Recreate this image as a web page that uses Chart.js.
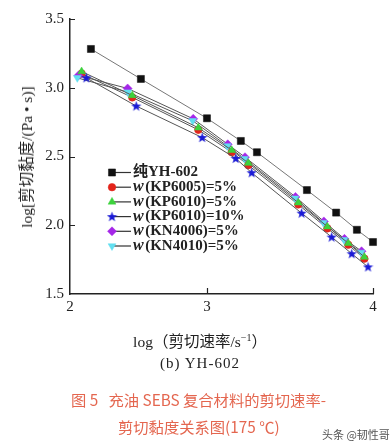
<!DOCTYPE html>
<html>
<head>
<meta charset="utf-8">
<script src="https://cdn.jsdelivr.net/npm/chart.js@4.4.0/dist/chart.umd.min.js"></script>
<style>
  body { margin: 0; background: #fff; }
  #wrap { position: relative; width: 392px; height: 447px; overflow: hidden; }
  .t { position: absolute; white-space: nowrap; font-family: 'Liberation Serif', 'Noto Sans CJK SC', serif; color: #222; }
  .cap { font-family: 'Noto Sans CJK SC', sans-serif; color: #e4664f; font-size: 15.3px; }
  sup { font-size: 10px; }
</style>
</head>
<body>
<div id="wrap">
  <canvas id="chart" width="392" height="447"></canvas>
  <div class="t" style="left:25px;top:157px;font-size:15.5px;transform:translate(-50%,-50%) rotate(-90deg);">log[剪切黏度/(Pa • s)]</div>
  <div class="t" style="left:0;width:400px;top:329px;text-align:center;font-size:15.5px;">log（剪切速率/s<sup>−1</sup>）</div>
  <div class="t" style="left:0;width:400px;top:355px;text-align:center;font-size:15px;letter-spacing:1px;">(b) YH-602</div>
  <div class="t cap" style="left:71px;top:388px;">图 5&nbsp;&nbsp;&nbsp;充油 SEBS 复合材料的剪切速率-</div>
  <div class="t cap" style="left:118px;top:415px;">剪切黏度关系图(175 ℃)</div>
  <div class="t" style="left:322px;top:426px;font-family:'Noto Sans CJK SC',sans-serif;font-size:11px;color:#555;">头条 @韧性哥</div>
</div>
<script>
// log(剪切速率) / log(剪切黏度) 数据
const pureX = [2.301, 2.602, 3.0, 3.204, 3.301, 3.602, 3.778, 3.903, 4.0];
const pureY = [3.282, 3.064, 2.778, 2.613, 2.531, 2.256, 2.092, 1.967, 1.878];

const kp6005X = [2.245, 2.550, 2.948, 3.149, 3.249, 3.550, 3.725, 3.851, 3.948];
const kp6005Y = [3.103, 2.930, 2.694, 2.531, 2.437, 2.151, 1.977, 1.858, 1.757];

const kp6010X = [2.245, 2.550, 2.948, 3.149, 3.249, 3.550, 3.725, 3.851, 3.948];
const kp6010Y = [3.118, 2.944, 2.709, 2.546, 2.452, 2.164, 1.990, 1.870, 1.769];

const kp6010_10X = [2.273, 2.574, 2.971, 3.173, 3.269, 3.570, 3.751, 3.872, 3.970];
const kp6010_10Y = [3.072, 2.867, 2.638, 2.486, 2.382, 2.088, 1.914, 1.793, 1.697];

const kn4006X = [2.226, 2.522, 2.917, 3.125, 3.229, 3.533, 3.704, 3.828, 3.931];
const kn4006Y = [3.089, 2.995, 2.774, 2.589, 2.495, 2.206, 2.028, 1.901, 1.811];

const kn4010X = [2.219, 2.524, 2.914, 3.122, 3.226, 3.530, 3.701, 3.825, 3.928];
const kn4010Y = [3.072, 2.968, 2.760, 2.577, 2.484, 2.196, 2.019, 1.894, 1.802];

// 图例文字 (w 为斜体)
const legendPrefix = ['', 'w', 'w', 'w', 'w', 'w'];
const legendText = ['纯YH-602', '(KP6005)=5%', '(KP6010)=5%', '(KP6010)=10%', '(KN4006)=5%', '(KN4010)=5%'];

// 坐标轴刻度
const xAxisStart = 2.175;   // 原图横轴起点, 标注为 "2"
const xTicks = [xAxisStart, 3, 4];
const xTickLabels = ['2', '3', '4'];
const yTicks = [1.5, 2.0, 2.5, 3.0, 3.5];

function pts(xs, ys) {
    return xs.map((x, i) => ({ x: x, y: ys[i] }));
}

// 实心五角星
const star = document.createElement('canvas');
star.width = 11; star.height = 11;
(function () {
    const c = star.getContext('2d');
    c.fillStyle = '#1a1ad6';
    c.beginPath();
    for (let i = 0; i < 10; i++) {
        const r = i % 2 ? 2.2 : 5.4;
        const a = -Math.PI / 2 + i * Math.PI / 5;
        c.lineTo(5.5 + r * Math.cos(a), 5.8 + r * Math.sin(a));
    }
    c.closePath();
    c.fill();
})();

const serif = "'Liberation Serif', 'Noto Sans CJK SC', serif";

const datasets = [
    { data: pts(pureX, pureY), pointStyle: 'rect', pointRadius: 5, color: '#111', line: '#777', order: 1 },
    { data: pts(kp6005X, kp6005Y), pointStyle: 'circle', pointRadius: 3.8, color: '#e3241b', line: '#555', order: 6 },
    { data: pts(kp6010X, kp6010Y), pointStyle: 'triangle', pointRadius: 4.5, color: '#3cd23c', line: '#555', order: 3 },
    { data: pts(kp6010_10X, kp6010_10Y), pointStyle: star, pointRadius: 5, color: '#1a1ad6', line: '#555', order: 2 },
    { data: pts(kn4006X, kn4006Y), pointStyle: 'rectRot', pointRadius: 4.5, color: '#a526e8', line: '#555', order: 5 },
    { data: pts(kn4010X, kn4010Y), pointStyle: 'triangle', rotation: 180, pointRadius: 4.5, color: '#62dff0', line: '#555', order: 4 }
].map(d => ({
    data: d.data,
    order: d.order,
    pointStyle: d.pointStyle,
    rotation: d.rotation || 0,
    pointRadius: d.pointRadius,
    pointHoverRadius: d.pointRadius,
    pointBackgroundColor: d.color,
    pointBorderColor: d.color,
    pointBorderWidth: 0.5,
    borderColor: d.line,
    borderWidth: 1,
    showLine: true,
    tension: 0,
    clip: false
}));

// 向内的刻度线 + 图例
const extras = {
    id: 'extras',
    afterDraw(chart) {
        const ctx = chart.ctx;
        const a = chart.chartArea;
        const xs = chart.scales.x, ys = chart.scales.y;
        ctx.save();
        ctx.strokeStyle = '#222';
        ctx.lineWidth = 1.2;
        ctx.beginPath();
        yTicks.slice(1).forEach(v => {
            const y = Math.round(ys.getPixelForValue(v)) + 0.5;
            ctx.moveTo(a.left, y); ctx.lineTo(a.left + 5, y);
        });
        xTicks.slice(1).forEach(v => {
            const x = Math.round(xs.getPixelForValue(v)) + 0.5;
            ctx.moveTo(x, a.bottom); ctx.lineTo(x, a.bottom - 6);
        });
        ctx.stroke();

        const lx = 112, ly0 = 172.5, step = 14.7;
        chart.data.datasets.forEach((ds, i) => {
            const y = ly0 + i * step;
            ctx.strokeStyle = '#333';
            ctx.lineWidth = 1.2;
            ctx.beginPath();
            ctx.moveTo(lx, y); ctx.lineTo(lx + 19, y);
            ctx.stroke();
            ctx.fillStyle = ds.pointBackgroundColor;
            ctx.strokeStyle = ds.pointBorderColor;
            ctx.lineWidth = 0.5;
            Chart.helpers.drawPoint(ctx, {
                pointStyle: ds.pointStyle,
                radius: ds.pointRadius,
                rotation: ds.rotation,
                borderWidth: 0.5
            }, lx, y);
            ctx.fillStyle = '#222';
            ctx.textBaseline = 'middle';
            let tx = lx + 21;
            if (legendPrefix[i]) {
                ctx.font = 'italic bold 16px ' + serif;
                ctx.fillText(legendPrefix[i], tx, y);
                tx += ctx.measureText(legendPrefix[i]).width + 1.5;
            }
            ctx.font = 'bold 15px ' + serif;
            ctx.fillText(legendText[i], tx, y);
        });
        ctx.restore();
    }
};

new Chart(document.getElementById('chart'), {
    type: 'scatter',
    data: { datasets: datasets },
    options: {
        responsive: false,
        animation: false,
        events: [],
        layout: { padding: { top: 19, right: 19, left: 0, bottom: 0 } },
        plugins: { legend: { display: false }, tooltip: { enabled: false } },
        scales: {
            x: {
                type: 'linear',
                min: xAxisStart,
                max: 4,
                afterFit: s => { s.height = 447 - 294; },
                afterBuildTicks: s => { s.ticks = xTicks.map(v => ({ value: v })); },
                ticks: {
                    callback: (v, i) => xTickLabels[i],
                    color: '#222',
                    font: { family: serif, size: 15 },
                    padding: 4,
                    maxRotation: 0
                },
                grid: { drawOnChartArea: false, drawTicks: false },
                border: { color: '#222', width: 1.5 }
            },
            y: {
                type: 'linear',
                min: 1.5,
                max: 3.5,
                afterFit: s => { s.width = 70; },
                afterBuildTicks: s => { s.ticks = yTicks.map(v => ({ value: v })); },
                ticks: {
                    callback: v => v.toFixed(1),
                    color: '#222',
                    font: { family: serif, size: 15 },
                    padding: 6
                },
                grid: { drawOnChartArea: false, drawTicks: false },
                border: { color: '#222', width: 1.5 }
            }
        }
    },
    plugins: [extras]
});
</script>
</body>
</html>
